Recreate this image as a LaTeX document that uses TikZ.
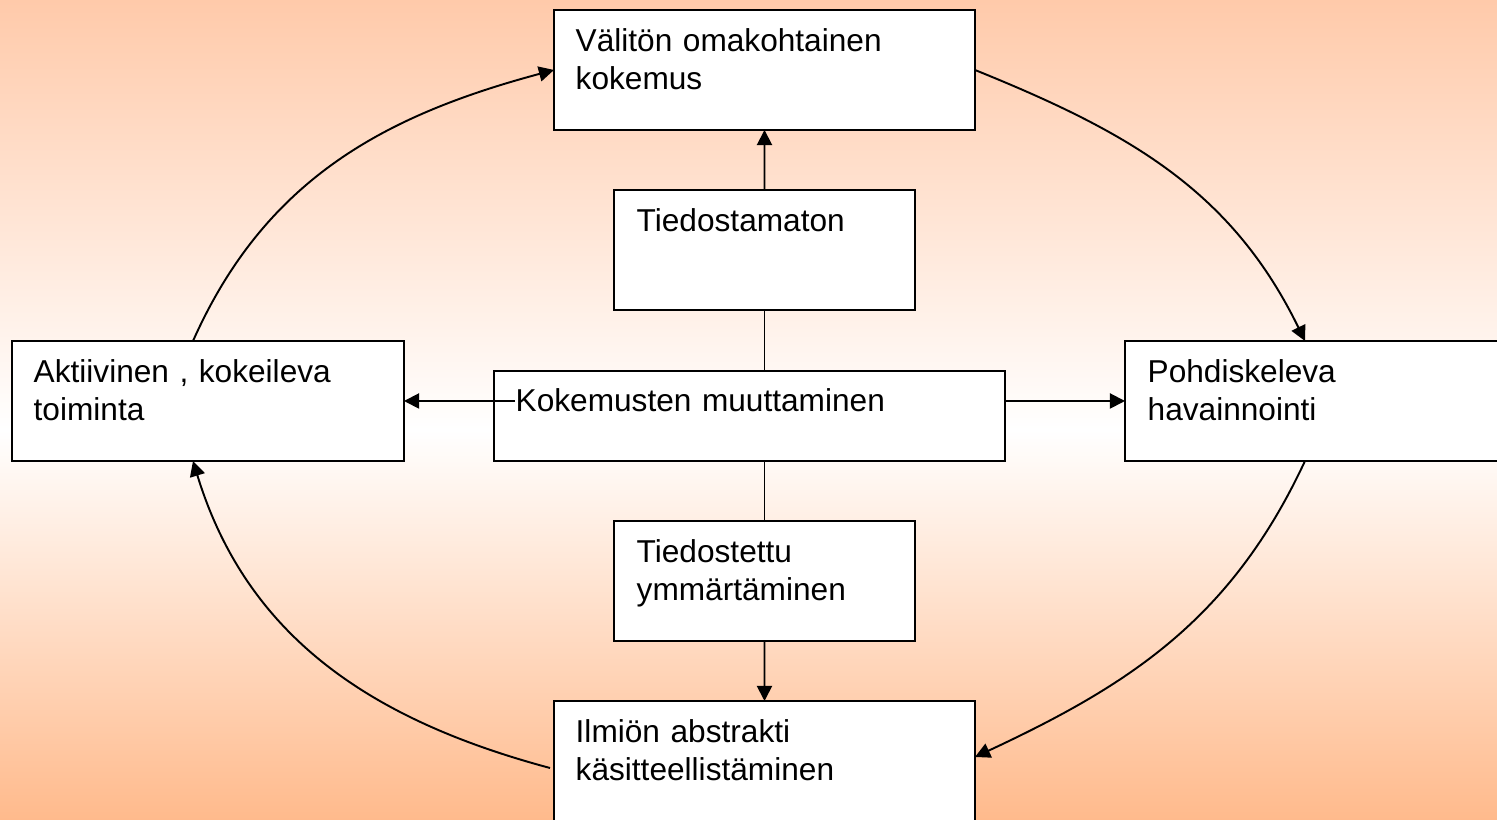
\documentclass[tikz,border=0pt]{standalone}
\usepackage{fontspec}
\setmainfont{Liberation Sans}
\usetikzlibrary{arrows.meta,calc}
\definecolor{ylavari}{RGB}{255,202,170}
\definecolor{alavari}{RGB}{255,186,140}
\begin{document}
\begin{tikzpicture}[
  laatikko/.style={draw,fill=white,line width=.6pt,anchor=north west,inner sep=0,outer sep=0},
  teksti/.style={anchor=base west,inner sep=0,text width=6cm,align=left,font=\fontsize{9}{10.8}\selectfont},
  nuoli/.style={line width=.55pt,-{Triangle[length=4.3pt,width=4.3pt]}},
  viiva/.style={line width=.55pt}
]
\useasboundingbox (0,0) rectangle (14.97,8.2);
\shade[top color=ylavari,bottom color=white] (0,3.9) rectangle (14.97,8.2);
\shade[top color=white,bottom color=alavari] (0,0) rectangle (14.97,3.9);

\node[laatikko,minimum width=4.21cm,minimum height=1.2cm] (valiton) at (5.54,8.1) {};
\node[laatikko,minimum width=3.01cm,minimum height=1.2cm] (tiedostamaton) at (6.14,6.3) {};
\node[laatikko,minimum width=3.92cm,minimum height=1.2cm] (aktiivinen) at (0.12,4.79) {};
\node[laatikko,minimum width=5.11cm,minimum height=0.9cm] (muutos) at (4.94,4.49) {};
\node[laatikko,minimum width=4.2cm,minimum height=1.2cm] (pohd) at (11.25,4.79) {};
\node[laatikko,minimum width=3.01cm,minimum height=1.2cm] (tiedostettu) at (6.14,2.99) {};
\node[laatikko,minimum width=4.21cm,minimum height=1.4cm] (ilmion) at (5.54,1.19) {};

\node[teksti] (valitonteksti) at ([xshift=.21cm,yshift=-.42cm]valiton.north west) {Välitön omakohtainen\\kokemus};
\node[teksti] (tiedostamatonteksti) at ([xshift=.22cm,yshift=-.42cm]tiedostamaton.north west) {Tiedostamaton};
\node[teksti] (aktiivinenteksti) at ([xshift=.21cm,yshift=-.42cm]aktiivinen.north west) {Aktiivinen , kokeileva\\toiminta};
\node[teksti] (muutosteksti) at ([xshift=.21cm,yshift=-.41cm]muutos.north west) {Kokemusten muuttaminen};
\node[teksti] (pohdteksti) at ([xshift=.22cm,yshift=-.42cm]pohd.north west) {Pohdiskeleva\\havainnointi};
\node[teksti] (tiedostettuteksti) at ([xshift=.22cm,yshift=-.42cm]tiedostettu.north west) {Tiedostettu\\ymmärtäminen};
\node[teksti] (ilmionteksti) at ([xshift=.21cm,yshift=-.42cm]ilmion.north west) {Ilmiön abstrakti\\käsitteellistäminen};

\draw[nuoli] (tiedostamaton.north) -- (valiton.south);
\draw[viiva] (tiedostamaton.south) -- (tiedostamaton.south |- muutos.north);
\draw[viiva] (muutos.south -| tiedostettu.north) -- (tiedostettu.north);
\draw[nuoli] (tiedostettu.south) -- (ilmion.north);
\draw[nuoli] (muutos.east |- pohd.west) -- (pohd.west);
\draw[nuoli] ($(muutos.west |- aktiivinen.east)+(.21,0)$) -- (aktiivinen.east);

\draw[nuoli] (valiton.east) to[out=-22,in=116] ([xshift=1.8cm]pohd.north west);
\draw[nuoli] ([xshift=1.8cm]pohd.south west) to[out=-115,in=25] ([yshift=-.56cm]ilmion.north east);
\draw[nuoli] ([xshift=-.04cm,yshift=-.67cm]ilmion.north west) to[out=165,in=-73] ([xshift=1.81cm]aktiivinen.south west);
\draw[nuoli] ([xshift=1.81cm]aktiivinen.north west) to[out=66,in=-165] (valiton.west);
\end{tikzpicture}
\end{document}
